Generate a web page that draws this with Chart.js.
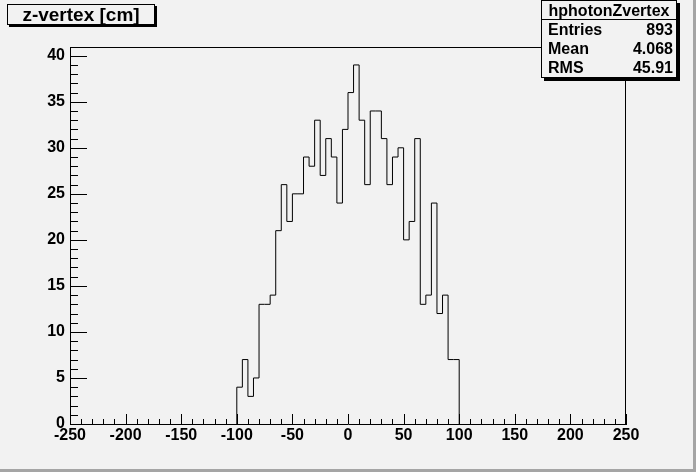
<!DOCTYPE html>
<html lang="en">
<head>
  <meta charset="UTF-8"/>
  <title>hphotonZvertex</title>
  <style>
    body { margin: 0; background: #f2f2f2; font-family: "Liberation Sans", Arial, sans-serif; }
    #wrap { position: relative; width: 696px; height: 472px; overflow: hidden; background: #f2f2f2; }
    canvas { position: absolute; left: 0; top: 0; }
    .bevel { position: absolute; background: #a5a5a5; }
    #titleBox {
      position: absolute; left: 7px; top: 4px; width: 146px; height: 19px;
      border: 1px solid #000; background: #f2f2f2; box-shadow: 2px 2px 0 #000;
      font-weight: bold; font-size: 19px; line-height: 19px; text-align: center;
    }
    #stats {
      position: absolute; left: 541px; top: 0; width: 134px; height: 76px;
      border: 1px solid #000; background: #f2f2f2; box-shadow: 3px 3px 0 #000;
      font-weight: bold; font-size: 16px;
    }
    #stats .head { height: 18px; line-height: 20px; text-align: center; border-bottom: 1px solid #000; }
    #stats .row { height: 19px; line-height: 19px; padding: 0 3px 0 6px; display: flex; justify-content: space-between; }
  </style>
</head>
<body>
  <div id="wrap">
    <canvas id="chart" width="696" height="472"></canvas>
    <div class="bevel" style="right:0;top:0;width:3px;height:472px"></div>
    <div class="bevel" style="left:0;bottom:0;width:696px;height:3px"></div>
    <div id="titleBox">z-vertex [cm]</div>
    <div id="stats">
      <div class="head">hphotonZvertex</div>
      <div class="row"><span>Entries</span><span id="sEntries"></span></div>
      <div class="row"><span>Mean</span><span id="sMean"></span></div>
      <div class="row"><span>RMS</span><span id="sRms"></span></div>
    </div>
  </div>

  <script src="https://cdn.jsdelivr.net/npm/chart.js"></script>
  <script>
  // histogram: 5 cm bins, non-empty from -100 to 100
  const binLow = -100;
  const binWidth = 5;
  const counts = [4, 7, 3, 5, 13, 13, 14, 21, 26, 22,
                  25, 25, 29, 28, 33, 27, 31, 29, 24, 32,
                  36, 39, 33, 26, 34, 34, 31, 26, 29, 30,
                  20, 22, 31, 13, 14, 24, 12, 14, 7, 7];
  const xTicks = [-250, -200, -150, -100, -50, 0, 50, 100, 150, 200, 250];
  const yTicks = [0, 5, 10, 15, 20, 25, 30, 35, 40];
  const statEntries = '893';
  const statMean = '4.068';
  const statRms = '45.91';

  document.getElementById('sEntries').textContent = statEntries;
  document.getElementById('sMean').textContent = statMean;
  document.getElementById('sRms').textContent = statRms;

  // step outline: each point carries the height of the bin ending there
  const pts = [{x: binLow, y: 0}];
  counts.forEach((c, i) => {
    pts.push({x: binLow + i * binWidth, y: c});
    pts.push({x: binLow + (i + 1) * binWidth, y: c});
  });
  pts.push({x: binLow + counts.length * binWidth, y: 0});

  const tickFont = {family: '"Liberation Sans", Arial, sans-serif', size: 16, weight: 'bold'};

  // inward ticks + top/right frame, like ROOT
  const frame = {
    id: 'frame',
    afterDraw(chart) {
      const {ctx, chartArea: a, scales: {x, y}} = chart;
      ctx.save();
      ctx.strokeStyle = '#000';
      ctx.lineWidth = 1;
      ctx.beginPath();
      ctx.moveTo(a.left + 0.5, a.top + 0.5); ctx.lineTo(a.right - 0.5, a.top + 0.5);
      ctx.lineTo(a.right - 0.5, a.bottom);
      for (let v = -250; v <= 250; v += 10) {
        const px = Math.round(x.getPixelForValue(v)) + 0.5;
        const len = v % 50 === 0 ? 10 : 5;
        ctx.moveTo(px, a.bottom); ctx.lineTo(px, a.bottom - len);
      }
      for (let v = 0; v <= 40; v += 1) {
        const py = Math.round(y.getPixelForValue(v)) + 0.5;
        const len = v % 5 === 0 ? 17 : 8;
        ctx.moveTo(a.left, py); ctx.lineTo(a.left + len, py);
      }
      ctx.stroke();
      ctx.restore();
    }
  };

  new Chart(document.getElementById('chart'), {
    type: 'line',
    data: {
      datasets: [{
        data: pts,
        stepped: 'before',
        borderColor: '#000',
        borderWidth: 1,
        pointRadius: 0,
        fill: false
      }]
    },
    options: {
      responsive: false,
      animation: false,
      layout: {padding: {top: 47, right: 70, left: 0, bottom: 0}},
      plugins: {legend: {display: false}, tooltip: {enabled: false}},
      scales: {
        x: {
          type: 'linear', min: -250, max: 250,
          afterFit: s => { s.height = 48; },
          afterBuildTicks: s => { s.ticks = xTicks.map(v => ({value: v})); },
          grid: {display: false, drawTicks: false},
          border: {display: true, color: '#000', width: 1},
          ticks: {color: '#000', font: tickFont, padding: 2, maxRotation: 0}
        },
        y: {
          type: 'linear', min: 0, max: 40.95,
          afterFit: s => { s.width = 70; },
          afterBuildTicks: s => { s.ticks = yTicks.map(v => ({value: v})); },
          grid: {display: false, drawTicks: false},
          border: {display: true, color: '#000', width: 1},
          ticks: {color: '#000', font: tickFont, padding: 5}
        }
      }
    },
    plugins: [frame]
  });
  </script>
</body>
</html>
